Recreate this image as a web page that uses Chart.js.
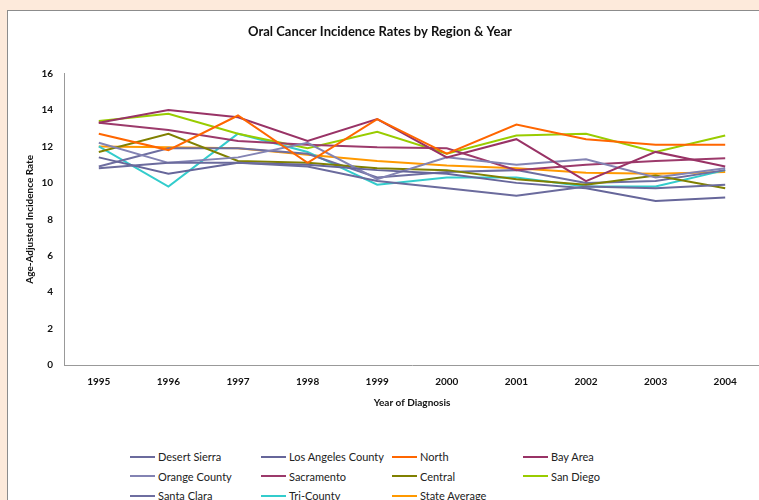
<!DOCTYPE html>
<html>
<head>
<meta charset="utf-8">
<script src="https://cdn.jsdelivr.net/npm/chart.js@4/dist/chart.umd.min.js"></script>
<style>
  html, body { margin: 0; padding: 0; overflow: hidden; }
  body { width: 759px; height: 500px; background: #fdeadb; position: relative; font-family: Lato, "Open Sans", sans-serif; }
  #frame { position: absolute; left: 7px; top: 10px; width: 800px; height: 520px; background: #fff; border: 1px solid #8c8c8c; }
  #box { position: absolute; left: 0; top: 0; width: 770px; height: 420px; }
  #legend { position: absolute; left: 130px; top: 447px; display: grid; grid-template-columns: repeat(4, 131px); grid-auto-rows: 19.5px; font-size: 11px; color: #222; }
  #legend div { display: flex; align-items: center; white-space: nowrap; }
  #legend span.sw { display: inline-block; width: 25px; height: 2px; margin-right: 3px; }
</style>
</head>
<body>
<div id="frame"></div>
<div id="box"><canvas id="myChart"></canvas></div>
<div id="legend"></div>
<script>
let anios = ['1995','1996','1997','1998','1999','2000','2001','2002','2003','2004'];

let desertSierra = [10.8, 11.1, 11.1, 10.9, 10.1, 9.7, 9.3, 9.8, 9.7, 9.9];
let losAngeles   = [11.4, 10.5, 11.1, 11.0, 10.7, 10.5, 10.0, 9.7, 9.0, 9.2];
let north        = [12.7, 11.8, 13.7, 11.1, 13.5, 11.6, 13.2, 12.4, 12.1, 12.1];
let bayArea      = [13.3, 14.0, 13.6, 12.3, 13.5, 11.4, 12.4, 10.1, 11.7, 10.9];
let orangeCounty = [12.2, 11.1, 11.4, 12.2, 10.2, 11.4, 11.0, 11.3, 10.3, 10.8];
let sacramento   = [13.3, 12.9, 12.3, 12.1, 11.95, 11.9, 10.7, 11.0, 11.2, 11.35];
let central      = [11.7, 12.7, 11.2, 11.1, 10.8, 10.7, 10.2, 9.9, 10.4, 9.7];
let sanDiego     = [13.4, 13.8, 12.7, 11.9, 12.8, 11.6, 12.6, 12.7, 11.7, 12.6];
let santaClara   = [10.9, 11.9, 11.9, 11.6, 10.3, 10.6, 10.7, 10.0, 10.1, 10.7];
let triCounty    = [12.0, 9.8, 12.7, 11.7, 9.9, 10.3, 10.3, 9.8, 9.8, 10.7];
let stateAverage = [12.0, 11.95, 11.9, 11.55, 11.2, 10.95, 10.8, 10.55, 10.5, 10.6];

// orden del legend (por filas)
let nombres = ['Desert Sierra','Los Angeles County','North','Bay Area',
               'Orange County','Sacramento','Central','San Diego',
               'Santa Clara','Tri-County','State Average'];
let series = [desertSierra, losAngeles, north, bayArea,
              orangeCounty, sacramento, central, sanDiego,
              santaClara, triCounty, stateAverage];
let colores = ['#6b6b9d','#66669a','#ff6600','#993366',
               '#8383b3','#9c3a6b','#808000','#99cc00',
               '#6e6ea0','#33cccc','#ff9900'];

const tickFont = { family: 'Lato', size: 10, weight: 'bold' };

const ctx1 = document.querySelector('#myChart').getContext('2d');

let myChart = new Chart(ctx1, {
    type: 'line',
    data: {
        labels: anios,
        datasets: nombres.map((n, k) => ({
            label: n,
            data: series[k],
            borderColor: colores[k],
            backgroundColor: colores[k],
            borderWidth: 2,
            pointRadius: 0,
            tension: 0,
            fill: false
        }))
    },
    options: {
        responsive: true,
        maintainAspectRatio: false,
        animation: false,
        layout: { padding: { left: 0, right: 10, top: 0, bottom: 0 } },
        plugins: {
            legend: { display: false },
            tooltip: { enabled: false },
            title: {
                display: true,
                text: 'Oral Cancer Incidence Rates by Region & Year',
                color: '#111',
                font: { family: 'Lato', size: 13, weight: 'bold' },
                padding: { top: 24, bottom: 34 }
            }
        },
        scales: {
            x: {
                offset: true,
                grid: { display: false, drawTicks: false },
                border: { display: true, color: '#999', width: 1 },
                ticks: { color: '#111', font: tickFont, padding: 11, maxRotation: 0 },
                title: {
                    display: true,
                    text: 'Year of Diagnosis',
                    color: '#111',
                    font: tickFont,
                    padding: { top: 0, bottom: 11 }
                },
                afterFit: s => { s.height = 55; }
            },
            y: {
                min: 0,
                max: 16,
                grid: { display: false, drawTicks: false },
                border: { display: true, color: '#999', width: 1 },
                ticks: { stepSize: 2, color: '#111', font: tickFont, padding: 11 },
                title: {
                    display: true,
                    text: 'Age-Adjusted Incidence Rate',
                    color: '#111',
                    font: tickFont,
                    padding: { top: 24, bottom: 0 }
                },
                afterFit: s => { s.width = 64; }
            }
        }
    }
});

// legend armado con los mismos arrays
const leg = document.querySelector('#legend');
nombres.forEach((n, k) => {
    const d = document.createElement('div');
    d.innerHTML = '<span class="sw" style="background:' + colores[k] + '"></span>' + n;
    leg.appendChild(d);
});
</script>
</body>
</html>
